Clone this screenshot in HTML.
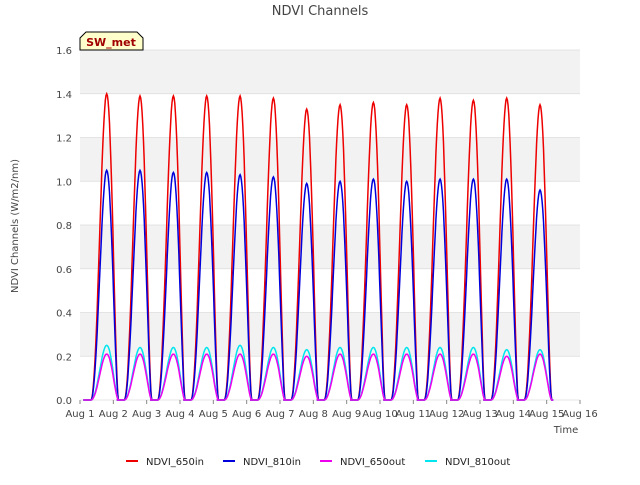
<!DOCTYPE html>
<html><head><meta charset="utf-8"><style>
body{margin:0;background:#fff;font-family:"Liberation Sans",sans-serif}
svg text{font-family:"DejaVu Sans","Liberation Sans",sans-serif}
</style></head><body>
<svg id="chart" width="640" height="480">
<rect width="640" height="480" fill="#fff"/>
<g id="bands"></g>
<text x="320" y="15" text-anchor="middle" font-size="13" fill="#444">NDVI Channels</text>
<g id="grid"></g>
<g id="series"></g>
<g id="axes"></g>
<text transform="translate(18,226) rotate(-90)" text-anchor="middle" font-size="10" fill="#444">NDVI Channels (W/m2/nm)</text>
<text x="566" y="433" text-anchor="middle" font-size="10" fill="#444">Time</text>
<g>
<path d="M80,50 L80,38 L86,32 L137,32 L143,38 L143,50 Z" fill="#ffffcc" stroke="#000" stroke-width="1"/>
<text x="111" y="46" text-anchor="middle" font-size="11" font-weight="bold" fill="#a00000">SW_met</text>
</g>
<g id="legend"></g>
</svg>
<script>
const days=[1,2,3,4,5,6,7,8,9,10,11,12,13,14];
const in650=[1.40,1.39,1.39,1.39,1.39,1.38,1.33,1.35,1.36,1.35,1.38,1.37,1.38,1.35];
const in810=[1.05,1.05,1.04,1.04,1.03,1.02,0.99,1.00,1.01,1.00,1.01,1.01,1.01,0.96];
const out650=[0.21,0.21,0.21,0.21,0.21,0.21,0.20,0.21,0.21,0.21,0.21,0.21,0.20,0.21];
const out810=[0.25,0.24,0.24,0.24,0.25,0.24,0.23,0.24,0.24,0.24,0.24,0.24,0.23,0.23];
const yTicks=["0.0","0.2","0.4","0.6","0.8","1.0","1.2","1.4","1.6"];
const xTicks=["Aug 1","Aug 2","Aug 3","Aug 4","Aug 5","Aug 6","Aug 7","Aug 8","Aug 9","Aug 10","Aug 11","Aug 12","Aug 13","Aug 14","Aug 15","Aug 16"];
const X0=80,X1=580,Y0=400,Y1=50;
const x=d=>X0+(d-1)*(X1-X0)/15;
const y=v=>Y0-v*(Y0-Y1)/1.6;
const NS="http://www.w3.org/2000/svg";
function mk(t,a,p){const e=document.createElementNS(NS,t);for(const k in a)e.setAttribute(k,a[k]);p.appendChild(e);return e;}
const bands=document.getElementById('bands'),grid=document.getElementById('grid'),axes=document.getElementById('axes');
mk('rect',{x:X0,y:Y1,width:X1-X0,height:Y0-Y1,fill:'#ffffff'},bands);
for(let i=0;i<8;i++){if(i%2==1){const b=mk('rect',{x:X0,y:y((i+1)*0.2),width:X1-X0,height:y(i*0.2)-y((i+1)*0.2),fill:'#f2f2f2'},bands);

}}
yTicks.forEach((t,i)=>{const v=i*0.2;
mk('line',{x1:X0,x2:X1,y1:y(v),y2:y(v),stroke:'#dcdcdc','stroke-width':0.8},grid);
const tx=mk('text',{x:X0-8,y:y(v)+4,'text-anchor':'end','font-size':10,fill:'#444'},axes);tx.textContent=t;

});
xTicks.forEach((t,i)=>{
mk('line',{x1:x(i+1),x2:x(i+1),y1:Y0,y2:Y0+4,stroke:'#888'},axes);
const tx=mk('text',{x:x(i+1),y:Y0+17,'text-anchor':'middle','font-size':10,fill:'#444'},axes);tx.textContent=t;

});
const series=document.getElementById('series');
function draw(vals,color,name,w){
let pts=[];
vals.forEach((p,i)=>{const d=days[i];const s=d+0.33,e=d+1.15;
pts.push([x(d+0.1),y(0)]);
for(let k=0;k<=40;k++){const t=k/40;const dd=s+t*(e-s);const sh=Math.pow(Math.sin(Math.PI*Math.pow(t,1.25)),1.6);pts.push([x(dd),y(p*sh)]);}
pts.push([x(d+1.2),y(0)]);});
const pl=mk('polyline',{points:pts.map(q=>q[0].toFixed(1)+','+q[1].toFixed(1)).join(' '),fill:'none',stroke:color,'stroke-width':w},series);

}
draw(in650,'#ee0000','ndvi-650in-line',1.5);
draw(in810,'#0000dd','ndvi-810in-line',1.5);
draw(out810,'#00e5ee','ndvi-810out-line',1.5);
draw(out650,'#ee00ee','ndvi-650out-line',1.5);
const leg=document.getElementById('legend');
[['NDVI_650in','#ee0000',126],['NDVI_810in','#0000dd',223],['NDVI_650out','#ee00ee',320],['NDVI_810out','#00e5ee',425]].forEach(l=>{
const g=mk('g',{},leg);


mk('line',{x1:l[2],x2:l[2]+12,y1:461,y2:461,stroke:l[1],'stroke-width':2},g);
const t=mk('text',{x:l[2]+20,y:465,'font-size':10,fill:'#222'},g);t.textContent=l[0];});
</script>
</body></html>
